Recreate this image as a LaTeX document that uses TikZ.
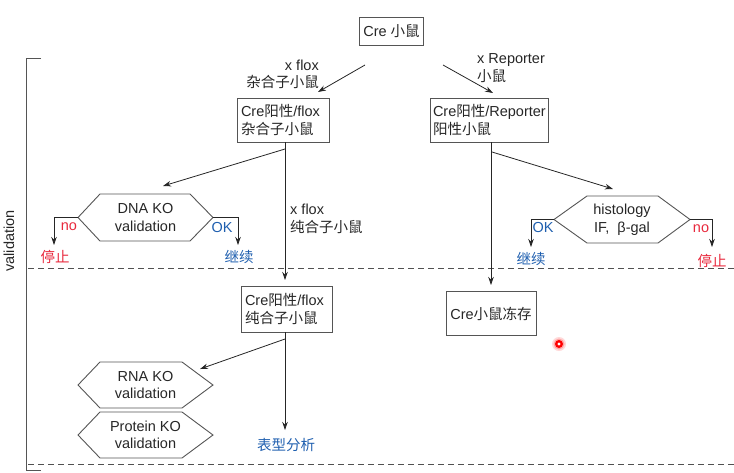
\documentclass[tikz,border=0pt]{standalone}
\usepackage{fontspec}
\setmainfont{Liberation Sans}
\newfontfamily\cjk{Noto Sans CJK SC}
\usetikzlibrary{arrows.meta}
\definecolor{ink}{HTML}{262626}
\definecolor{edge}{HTML}{555555}
\definecolor{nored}{HTML}{E8283C}
\definecolor{okblue}{HTML}{1F5FAF}
\tikzset{
  txt/.style={font=\fontsize{14.5}{17.5}\selectfont, text=ink, inner sep=0pt},
  boxnode/.style={txt, draw=edge, line width=0.9pt, align=left, inner xsep=4pt, inner ysep=0pt, anchor=center},
  hexa/.style={draw=edge, line width=0.9pt},
  conn/.style={draw=ink, line width=0.8pt, -{Stealth[length=8pt,width=5.5pt]}},
  plainline/.style={draw=ink, line width=0.8pt},
  sep/.style={draw=ink!80, line width=0.8pt, dash pattern=on 6pt off 4pt},
  redtxt/.style={txt, text=nored},
  bluetxt/.style={txt, text=okblue}
}
\begin{document}
\begin{tikzpicture}[x=1pt,y=-1pt]
\useasboundingbox (0,0) rectangle (734,472);

% bracket and side label
\draw[draw=edge, line width=0.9pt] (41,58) -- (26,58) -- (26,470) -- (41,470);
\node[txt, rotate=90] (vlab) at (9,241) {validation};

% dashed separators
\draw[sep] (28,268) -- (734,268);
\draw[sep] (28,464) -- (734,464);

% boxes
\node[boxnode, minimum width=63pt, minimum height=28pt, align=center] (cre) at (391.5,31) {Cre {\cjk 小鼠}};
\node[boxnode, text width=84pt, minimum height=44pt] (het) at (283,120) {Cre{\cjk 阳性}/flox\\{\cjk 杂合子小鼠}};
\node[boxnode, text width=112pt, minimum height=44pt, inner xsep=3pt] (rep) at (489,120) {Cre{\cjk 阳性}/Reporter\\{\cjk 阳性小鼠}};
\node[boxnode, text width=83pt, minimum height=46pt] (hom) at (286.5,309) {Cre{\cjk 阳性}/flox\\{\cjk 纯合子小鼠}};
\node[boxnode, minimum width=90pt, minimum height=44pt, align=center] (frz) at (491,313.5) {Cre{\cjk 小鼠冻存}};

% hexagons
\draw[hexa] (78,217.5) coordinate (dnaL) -- (100,194) -- (190,194) -- (213,217.5) coordinate (dnaR) -- (190,241) -- (100,241) -- cycle;
\node[txt, align=center] (dna) at (145.5,217.5) {DNA KO\\validation};

\draw[hexa] (554,219.5) coordinate (hisL) -- (587,196) -- (658,196) -- (690,219.5) coordinate (hisR) -- (658,243) -- (587,243) -- cycle;
\node[txt, align=center] (his) at (622,219.5) {histology\\IF,\ \ β-gal};

\draw[hexa] (78,385) -- (100,362) -- (182,362) -- (213,385) -- (182,408) -- (100,408) -- cycle;
\node[txt, align=center] (rna) at (145.5,385) {RNA KO\\validation};

\draw[hexa] (78,435) -- (100,412) -- (182,412) -- (213,435) -- (182,458) -- (100,458) -- cycle;
\node[txt, align=center] (prot) at (145.5,435) {Protein KO\\validation};

% cross labels
\node[txt, align=right, anchor=east] (lflox) at (319,74.5) {x flox\\{\cjk 杂合子小鼠}};
\node[txt, align=left, anchor=west] (lrep) at (477,68) {x Reporter\\{\cjk 小鼠}};
\node[txt, align=left, anchor=west] (lhom) at (290,219) {x flox\\{\cjk 纯合子小鼠}};

% outcome labels
\node[redtxt] (no1) at (69,227) {no};
\node[redtxt] (stop1) at (55,257) {\cjk 停止};
\node[bluetxt] (ok1) at (222,228) {OK};
\node[bluetxt] (go1) at (239,257) {\cjk 继续};
\node[bluetxt] (ok2) at (543,228) {OK};
\node[bluetxt] (go2) at (531,259) {\cjk 继续};
\node[redtxt] (no2) at (701,229) {no};
\node[redtxt] (stop2) at (712,261) {\cjk 停止};
\node[bluetxt] (pheno) at (286,445) {\cjk 表型分析};

% connector coordinates
\coordinate (c1s) at (365,65);
\coordinate (c1e) at (318,92);
\coordinate (c2s) at (443,65);
\coordinate (c2e) at (493,93);
\coordinate (hetB) at (285,142);
\coordinate (hetJ) at (285,149);
\coordinate (hetE) at (285,280);
\coordinate (dnaT) at (163,186);
\coordinate (repB) at (491,142);
\coordinate (repJ) at (492,152);
\coordinate (repE) at (491,285);
\coordinate (hisT) at (613,189);
\coordinate (homB) at (285,332);
\coordinate (homJ) at (285,339);
\coordinate (homE) at (285,430);
\coordinate (rnaT) at (200,369);

% connectors
\draw[conn] (c1s) -- (c1e);
\draw[conn] (c2s) -- (c2e);
\draw[conn] (hetB) -- (hetE);
\draw[conn] (hetJ) -- (dnaT);
\draw[conn] (repB) -- (repE);
\draw[conn] (repJ) -- (hisT);
\draw[conn] (homB) -- (homE);
\draw[conn] (homJ) -- (rnaT);
\draw[conn] (dnaL) -- (54,217.5) -- (54,245);
\draw[conn] (dnaR) -- (238,217.5) -- (238,245);
\draw[conn] (hisL) -- (531,219.5) -- (531,247);
\draw[conn] (hisR) -- (712,219.5) -- (712,247);

% pointer highlight
\fill[red!15] (559,344) circle (7);
\fill[red!35] (559,344) circle (5.5);
\fill[red] (559,344) circle (4);
\fill[white] (559,344) circle (1.6);
\end{tikzpicture}
\end{document}
